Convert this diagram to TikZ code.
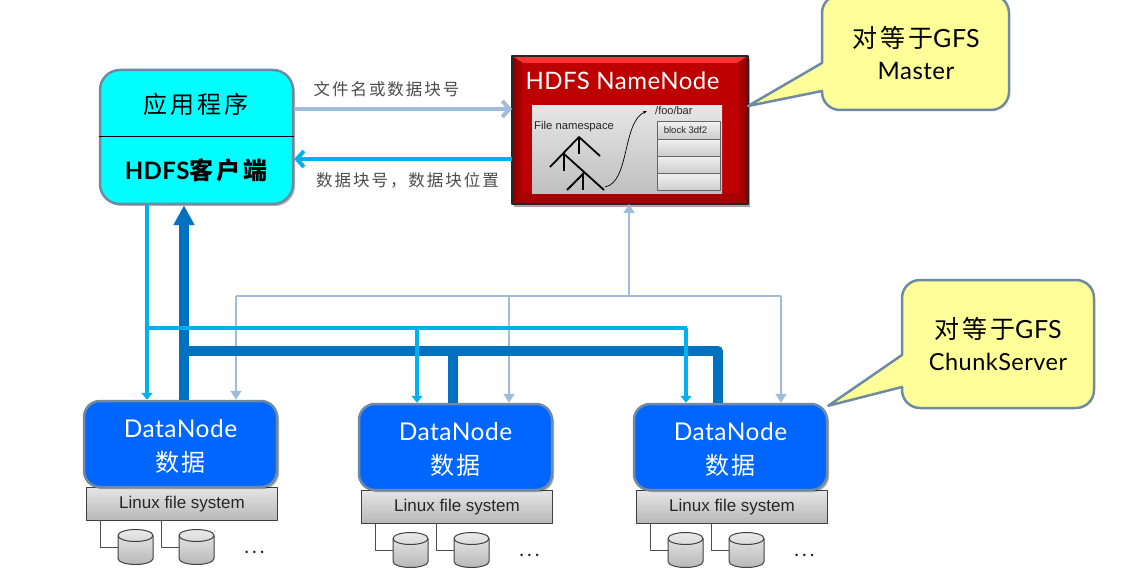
\documentclass[tikz,border=0pt]{standalone}
\usepackage{fontspec}
\setmainfont[LetterSpace=2]{Lato}
\newfontfamily\cjk[LetterSpace=12]{Noto Sans CJK SC}
\newfontfamily\arialfont{Liberation Sans}
\usetikzlibrary{arrows.meta,shadows}
\definecolor{boxedge}{HTML}{6F8AA3}
\definecolor{appcyan}{HTML}{00FFFF}
\definecolor{lightflow}{HTML}{9FBCD9}
\definecolor{cyanflow}{HTML}{00B0F0}
\definecolor{darkflow}{HTML}{0070C0}
\definecolor{nodeblue}{HTML}{0066FF}
\definecolor{namered}{HTML}{BD0000}
\definecolor{noteyellow}{HTML}{FFFF99}
\tikzset{
	softshadow/.style={drop shadow={shadow xshift=2pt,shadow yshift=-2pt,fill=black,opacity=0.3}},
	appbox/.style={draw=boxedge,line width=2.5pt,fill=appcyan,rounded corners=20pt,minimum width=193pt,minimum height=134pt,softshadow},
	datanode/.style={draw=boxedge,line width=2.5pt,fill=nodeblue,rounded corners=16pt,minimum width=193pt,minimum height=86pt,softshadow},
	fsbox/.style={draw=black!75,line width=1pt,top color=black!10,bottom color=black!28,minimum width=191pt,minimum height=33pt,font=\arialfont\fontsize{17}{17}\selectfont,text=black!85},
	disknode/.style={minimum width=35pt,minimum height=35pt,inner sep=0pt,outer sep=0pt},
	diskbody/.style={draw=black!75,line width=1pt,top color=black!8,bottom color=black!28},
	wire/.style={draw=black!70,line width=1pt},
	notebox/.style={draw=boxedge,line width=2.5pt,fill=noteyellow,line join=round},
	lightline/.style={draw=lightflow,line width=1.5pt},
	cyanline/.style={draw=cyanflow,line width=3.5pt},
	darkline/.style={draw=darkflow,line width=10pt},
	rowbox/.style={draw=black!60,line width=1pt,top color=black!6,bottom color=black!20,minimum width=63pt,minimum height=17.25pt,inner sep=0pt,outer sep=0pt},
}
\begin{document}
\begin{tikzpicture}[x=1pt,y=-1pt,line join=round,>=stealth]
	\useasboundingbox (0,0) rectangle (1138,588);
	\def\fig#1{\fontsize{#1}{#1}\selectfont}
	\def\diskdraw#1{
		\draw[diskbody] ([yshift=-6pt]#1.north west) -- ([yshift=6pt]#1.south west) arc (180:360:17.5pt and 6pt) -- ([yshift=-6pt]#1.north east) arc (0:180:17.5pt and 6pt);
		\draw[draw=black!75,line width=1pt] ([yshift=-6pt]#1.north west) arc (180:360:17.5pt and 6pt);
	}

	% NameNode with its bevelled frame
	\node[minimum width=236pt,minimum height=148pt,inner sep=0pt,outer sep=0pt,fill=namered,drop shadow={shadow xshift=2pt,shadow yshift=-3pt,fill=black,opacity=0.35}] (name) at (630,130) {};
	\fill[red!80!white] (name.north west) -- (name.north east) -- ++(-11,7) -- ++(-214,0) -- cycle;
	\shade[left color=red!50!black,right color=namered] (name.north west) -- ++(11,7) -- ++(0,130) -- (name.south west) -- cycle;
	\shade[left color=namered,right color=red!50!black] (name.north east) -- ++(-11,7) -- ++(0,130) -- (name.south east) -- cycle;
	\fill[red!65!black] (name.south west) -- ++(11,-11) -- ++(214,0) -- (name.south east) -- cycle;
	\draw[black!85,line width=2pt] (name.north west) rectangle (name.south east);
	\node[text=white,font=\fig{24}] (nametitle) at (622.5,81) {HDFS NameNode};
	\node[minimum width=190pt,minimum height=88pt,inner sep=0pt,top color=black!10,bottom color=black!25] (panel) at (627,150) {};
	\node[font=\arialfont\fig{11.3},text=black!85,anchor=west,inner sep=0pt] (nslabel) at (534,127) {File namespace};
	\node[font=\arialfont\fig{11},text=black!85,anchor=west,inner sep=0pt] (foolabel) at (655,111) {/foo/bar};
	\node[rowbox] (rowa) at (688.5,130.6) {};
	\node[rowbox,anchor=north] (rowb) at (rowa.south) {};
	\node[rowbox,anchor=north] (rowc) at (rowb.south) {};
	\node[rowbox,anchor=north] (rowd) at (rowc.south) {};
	\node[font=\arialfont\fig{9.5},text=black!85] (blocklabel) at (685.5,130.6) {block 3df2};
	% namespace tree
	\draw[black,line width=1.8pt] (550,167) -- (579,137) -- (600,156) (579,137) -- (579,154);
	\draw[black,line width=1.8pt] (563,153) -- (604,190) (564,153) -- (564,171);
	\draw[black,line width=1.8pt] (567,190) -- (584,173) (583,173) -- (583,190);
	\draw[black,line width=0.7pt,-{Stealth[length=4pt]}] (605,187) .. controls (630,182) and (622,122) .. (647,111);

	% application and client
	\node[appbox] (app) at (196.5,137) {};
	\draw[black,line width=1pt] (app.west) -- (app.east);
	\node[font=\cjk\fig{24}] (applabel) at (196,104) {应用程序};
	\node[font=\fig{24}\bfseries] (clientlabel) at (196,170) {HDFS{\cjk 客户端}};

	% data nodes, their file systems and disks
	\foreach \n/\x/\y in {a/180.5/444,b/455.5/447,c/730.5/447} {
		\node[fsbox] (fs\n) at ({\x+1.5},{\y+60}) {Linux file system};
		\node[datanode] (dn\n) at (\x,\y) {};
		\node[text=white,font=\fig{24.5}] (dnlabel\n) at (\x,{\y-15}) {DataNode};
		\node[text=white,font=\cjk\fig{24}] (dndata\n) at (\x,{\y+18}) {数据};
		\node[disknode] (disk\n1) at ({\x-45},{\y+103}) {};
		\node[disknode] (disk\n2) at ({\x+16},{\y+103}) {};
		\diskdraw{disk\n1}
		\diskdraw{disk\n2}
		\draw[wire] ({\x-80},{\y+76}) |- (disk\n1.west);
		\draw[wire] ({\x-19},{\y+76}) |- (disk\n2.west);
		\node[font=\fig{20},text=black!85] (dots\n) at ({\x+74},{\y+108}) {.\hspace{3pt}.\hspace{3pt}.};
	}

	% bus levels
	\coordinate (lightbus) at (629,296);
	\coordinate (cyanbus) at (147,328);
	\coordinate (darkbus) at (184,351);

	% heartbeat lines up to the name node
	\draw[lightline,-{Triangle[length=9pt,width=11pt]}] (lightbus) -- (lightbus |- name.south);
	\draw[lightline] (236,296) -- (781,296);
	\foreach \n/\x in {a/236,b/509,c/781}
		\draw[lightline,-{Triangle[length=9pt,width=11pt]}] (\x,296) -- (\x,0 |- dn\n.north);

	% reads back to the client
	\draw[darkline,-{Triangle[length=20pt,width=20pt]}] (darkbus |- dna.north) -- (darkbus |- app.south);
	\draw[darkline] (darkbus) -| (453,0 |- dnb.north);
	\draw[darkline] (darkbus) -| (718,0 |- dnc.north);

	% writes from the client
	\draw[cyanline,-{Triangle[length=7pt,width=11pt]}] (cyanbus |- app.south) -- (cyanbus |- dna.north);
	\draw[cyanline] (cyanbus) -- (687,328);
	\draw[cyanline,-{Triangle[length=7pt,width=11pt]}] (417,328) -- (417,0 |- dnb.north);
	\draw[cyanline,-{Triangle[length=7pt,width=11pt]}] (686,328) -- (686,0 |- dnc.north);

	% client and name node exchange
	\draw[draw=lightflow,line width=4pt,-{Straight Barb[length=7pt,width=16pt]}] (app.east |- 0,109) -- (name.west |- 0,109);
	\draw[cyanline,line width=4pt,-{Straight Barb[length=7pt,width=16pt]}] (name.west |- 0,159) -- (app.east |- 0,159);
	\node[font=\cjk\fig{16.5},text=black!70] (reqlabel) at (386.5,89) {文件名或数据块号};
	\node[font=\cjk\fig{16.5},text=black!70] (replabel) at (407.5,180) {数据块号，数据块位置};

	% notes
	\draw[notebox] (name.east |- 0,106) -- (822,63) -- (822,13) arc (180:90:18pt) -- (991,-5) arc (90:0:18pt) -- (1009,92) arc (0:-90:18pt) -- (840,110) arc (-90:-180:18pt) -- (822,91) -- cycle;
	\node[font=\cjk\fig{25}] (notemaster) at (916,38) {对等于\normalfont GFS};
	\node[font=\fig{24}] (notemastertwo) at (916,71) {Master};
	\draw[notebox] (dnc.north east) ++(0,3) -- (902,355) -- (902,298) arc (180:90:18pt) -- (1076,280) arc (90:0:18pt) -- (1094,390) arc (0:-90:18pt) -- (920,408) arc (-90:-180:18pt) -- (902,387) -- cycle;
	\node[font=\cjk\fig{25}] (notechunk) at (998,329) {对等于\normalfont GFS};
	\node[font=\fig{23.5}] (notechunktwo) at (998,362) {ChunkServer};
\end{tikzpicture}
\end{document}
